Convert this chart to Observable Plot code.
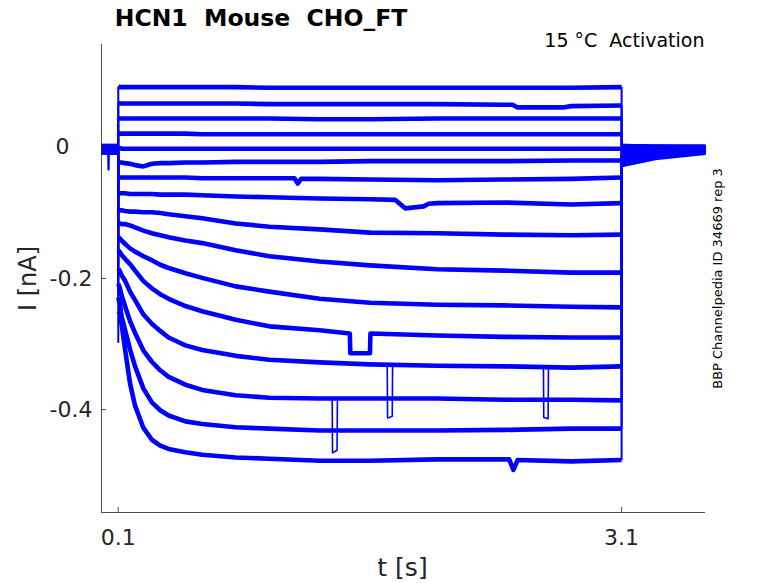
<!DOCTYPE html>
<html><head><meta charset="utf-8">
<script src="https://cdn.jsdelivr.net/npm/d3@7"></script>
<script src="https://cdn.jsdelivr.net/npm/@observablehq/plot@0.6"></script>
<style>
body{margin:0;background:#fff}
svg text{white-space:pre}
</style>
</head><body><div id="chart"></div>
<script>
// ---------- texts ----------
const titleText = "HCN1  Mouse  CHO_FT";
const conditionText = "15 °C  Activation";
const sourceText = "BBP Channelpedia ID 34669 rep 3";
const xLabel = "t [s]";
const yLabel = "I [nA]";
// ---------- axes ----------
const xTicks = [0.1, 3.1];
const xTickLabels = ["0.1", "3.1"];
const yTicks = [0, -0.2, -0.4];
const yTickLabels = ["0", "-0.2", "-0.4"];
const xDomain = [0, 3.6];
const yDomain = [-0.557, 0.157];
// ---------- protocol times ----------
const stepOn = 0.1;
const stepOff = 3.1;
const baseTimes = [0, 0.0995];
const tailTimes = [3.1005, 3.3, 3.6];
// sample times during the step (s)
const times = [0.1, 0.11, 0.12, 0.14, 0.17, 0.2, 0.25, 0.3, 0.35, 0.4, 0.5, 0.6, 0.8, 1.0, 1.3, 1.6, 2.0, 2.4, 2.8, 3.1];
// current during the step (nA), one array per sweep
const trace01 = [0.093,0.092,0.092,0.092,0.092,0.092,0.092,0.092,0.092,0.092,0.092,0.092,0.092,0.091,0.091,0.091,0.091,0.091,0.091,0.092];
const trace02 = [0.068,0.067,0.067,0.067,0.067,0.067,0.067,0.067,0.067,0.067,0.067,0.067,0.067,0.066,0.066,0.066,0.066,0.065,0.061,0.064];
const trace03 = [0.044,0.044,0.044,0.044,0.044,0.044,0.044,0.044,0.044,0.044,0.044,0.044,0.044,0.044,0.043,0.043,0.044,0.044,0.044,0.044];
const trace04 = [0.022,0.021,0.021,0.021,0.021,0.021,0.021,0.021,0.021,0.021,0.021,0.020,0.020,0.020,0.020,0.020,0.020,0.020,0.020,0.020];
const trace05 = [-0.001,-0.001,-0.002,-0.002,-0.002,-0.002,-0.002,-0.002,-0.002,-0.002,-0.002,-0.002,-0.002,-0.002,-0.002,-0.002,-0.002,-0.002,-0.002,-0.002];
const trace06 = [-0.023,-0.023,-0.023,-0.024,-0.025,-0.027,-0.029,-0.025,-0.024,-0.024,-0.023,-0.023,-0.022,-0.022,-0.022,-0.021,-0.021,-0.021,-0.020,-0.020];
const trace07 = [-0.045,-0.046,-0.046,-0.046,-0.046,-0.046,-0.046,-0.046,-0.046,-0.046,-0.046,-0.047,-0.047,-0.047,-0.048,-0.049,-0.050,-0.049,-0.048,-0.046];
const trace08 = [-0.070,-0.070,-0.070,-0.070,-0.071,-0.071,-0.071,-0.071,-0.072,-0.072,-0.072,-0.073,-0.075,-0.076,-0.078,-0.079,-0.085,-0.084,-0.087,-0.085];
const trace09 = [-0.096,-0.096,-0.096,-0.097,-0.098,-0.098,-0.099,-0.099,-0.100,-0.102,-0.105,-0.108,-0.116,-0.121,-0.125,-0.130,-0.131,-0.133,-0.134,-0.133];
const trace10 = [-0.116,-0.116,-0.117,-0.117,-0.119,-0.122,-0.127,-0.131,-0.134,-0.137,-0.142,-0.146,-0.157,-0.166,-0.174,-0.180,-0.186,-0.188,-0.191,-0.191];
const trace11 = [-0.137,-0.139,-0.142,-0.147,-0.154,-0.159,-0.166,-0.172,-0.179,-0.184,-0.192,-0.199,-0.212,-0.220,-0.231,-0.237,-0.240,-0.241,-0.243,-0.244];
const trace12 = [-0.157,-0.160,-0.164,-0.170,-0.178,-0.188,-0.204,-0.215,-0.224,-0.231,-0.242,-0.250,-0.263,-0.273,-0.279,-0.284,-0.287,-0.289,-0.290,-0.290];
const trace13 = [-0.185,-0.189,-0.195,-0.203,-0.220,-0.233,-0.255,-0.269,-0.280,-0.290,-0.302,-0.309,-0.318,-0.324,-0.328,-0.331,-0.333,-0.334,-0.336,-0.334];
const trace14 = [-0.208,-0.215,-0.226,-0.242,-0.265,-0.283,-0.310,-0.327,-0.340,-0.350,-0.362,-0.370,-0.378,-0.382,-0.383,-0.383,-0.383,-0.385,-0.385,-0.386];
const trace15 = [-0.229,-0.240,-0.258,-0.278,-0.308,-0.334,-0.368,-0.389,-0.401,-0.409,-0.418,-0.422,-0.427,-0.429,-0.432,-0.432,-0.432,-0.431,-0.429,-0.429];
const trace16 = [-0.250,-0.253,-0.270,-0.307,-0.360,-0.394,-0.428,-0.446,-0.455,-0.460,-0.465,-0.469,-0.473,-0.475,-0.478,-0.478,-0.476,-0.476,-0.479,-0.477];
const traces = [trace01,trace02,trace03,trace04,trace05,trace06,trace07,trace08,trace09,trace10,trace11,trace12,trace13,trace14,trace15,trace16];
// holding current before the step (nA)
const baseline = [0.002,0.002,0.001,0.001,0.000,0.000,-0.001,-0.002,-0.003,-0.004,-0.004,-0.005,-0.006,-0.007,-0.007,-0.008];
// capacitive transient at step onset (sweep index, nA)
const onsetTransient = {trace: 15, value: -0.298};
// tail currents after the step (nA) at tailTimes
const tailA = [0.002,0.002,0.001,0.001,0.000,-0.001,-0.003,-0.005,-0.008,-0.011,-0.014,-0.017,-0.020,-0.023,-0.025,-0.027];
const tailB = [0.001,0.001,0.001,0.000,0.000,-0.001,-0.002,-0.003,-0.005,-0.007,-0.008,-0.010,-0.011,-0.013,-0.014,-0.016];
const tailC = [0.001,0.001,0.000,0.000,-0.001,-0.001,-0.002,-0.002,-0.003,-0.004,-0.004,-0.005,-0.006,-0.006,-0.007,-0.008];
// in-trace dropouts / dips (sweep index, [t, nA] points)
const dropouts = [
  {trace: 1,  points: [[2.45,0.065],[2.48,0.061],[2.75,0.061],[2.80,0.063]]},
  {trace: 6,  points: [[1.15,-0.047],[1.17,-0.055],[1.19,-0.048]]},
  {trace: 7,  points: [[1.75,-0.080],[1.81,-0.093],[1.92,-0.090],[1.95,-0.086]]},
  {trace: 11, points: [[1.48,-0.284],[1.483,-0.314],[1.600,-0.314],[1.603,-0.284]]},
  {trace: 15, points: [[2.43,-0.476],[2.455,-0.492],[2.48,-0.477]]}
];
// narrow spikes (drawn thin)
const spikes = [
  {trace: 4,  points: [[0.038,-0.003],[0.040,-0.034],[0.044,-0.034],[0.046,-0.003]]},
  {trace: 12, points: [[1.703,-0.332],[1.705,-0.413],[1.733,-0.410],[1.735,-0.332]]},
  {trace: 12, points: [[2.634,-0.335],[2.636,-0.412],[2.662,-0.414],[2.664,-0.335]]},
  {trace: 13, points: [[1.375,-0.383],[1.377,-0.466],[1.404,-0.462],[1.406,-0.383]]}
];

// ---------- build tables ----------
const W = 778, H = 583;
const mL = 101, mR = 73, mT = 44, mB = 71;
const blue = "#0000ff";
const axisColor = "#262626";

const rows = [];
traces.forEach((vals, i) => {
  baseTimes.forEach(t => rows.push({key: `b${i}`, t, v: baseline[i]}));
  const drops = dropouts.filter(d => d.trace === i);
  let pts = times.map((t, k) => [t, vals[k]]).filter(([t]) =>
    !drops.some(d => t >= d.points[0][0] && t <= d.points[d.points.length - 1][0]));
  drops.forEach(d => pts = pts.concat(d.points));
  pts.sort((a, b) => a[0] - b[0]);
  pts.forEach(([t, v]) => rows.push({key: `s${i}`, t, v}));
  [tailA[i], tailB[i], tailC[i]].forEach((v, k) => rows.push({key: `t${i}`, t: tailTimes[k], v}));
});
const spikeRows = [];
spikes.forEach((s, j) => s.points.forEach(([t, v]) => spikeRows.push({key: `k${j}`, t, v})));

const onsetLinks = traces.map((vals, i) => ({
  y1: baseline[i],
  y2: i === onsetTransient.trace ? onsetTransient.value : vals[0]
}));
const offsetLinks = traces.map((vals, i) => ({y1: vals[vals.length - 1], y2: tailA[i]}));

const tickLenX = 5 * (xDomain[1] - xDomain[0]) / (W - mL - mR);
const tickLenY = 5 * (yDomain[1] - yDomain[0]) / (H - mT - mB);

const yTickRows = yTicks.map((v, k) => ({v, label: yTickLabels[k]}));
const xTickRows = xTicks.map((v, k) => ({v, label: xTickLabels[k]}));

const chart = Plot.plot({
  width: W, height: H,
  marginLeft: mL, marginRight: mR, marginTop: mT, marginBottom: mB,
  x: {domain: xDomain, axis: null},
  y: {domain: yDomain, axis: null},
  style: {fontFamily: "DejaVu Sans", background: "white", color: axisColor},
  marks: [
    // traces
    Plot.line(rows, {x: "t", y: "v", z: "key", stroke: blue, strokeWidth: 4.6, strokeLinejoin: "round", strokeLinecap: "butt", curve: "linear"}),
    Plot.line(spikeRows, {x: "t", y: "v", z: "key", stroke: blue, strokeWidth: 1.6}),
    Plot.link(onsetLinks, {x1: () => stepOn, x2: () => stepOn, y1: "y1", y2: "y2", stroke: blue, strokeWidth: 2}),
    Plot.link(offsetLinks, {x1: () => stepOff, x2: () => stepOff, y1: "y1", y2: "y2", stroke: blue, strokeWidth: 2}),
    // axes lines
    Plot.ruleX([xDomain[0]], {stroke: axisColor, strokeWidth: 0.8}),
    Plot.ruleY([yDomain[0]], {stroke: axisColor, strokeWidth: 0.8}),
    Plot.ruleY(yTicks, {x1: xDomain[0], x2: xDomain[0] + tickLenX, stroke: axisColor, strokeWidth: 0.8}),
    Plot.ruleX(xTicks, {y1: yDomain[0], y2: yDomain[0] + tickLenY, stroke: axisColor, strokeWidth: 0.8}),
    // tick labels
    Plot.text(yTickRows.filter(d => d.v !== 0), {x: xDomain[0], y: "v", text: "label", textAnchor: "end", dx: -9, fontSize: 22, fill: axisColor}),
    Plot.text(yTickRows.filter(d => d.v === 0), {x: xDomain[0], y: "v", text: "label", textAnchor: "middle", dx: -39, fontSize: 22, fill: axisColor}),
    Plot.text(xTickRows, {x: "v", y: yDomain[0], text: "label", dy: 25, lineAnchor: "middle", fontSize: 22, fill: axisColor}),
    // labels
    Plot.text([xLabel], {frameAnchor: "bottom", dx: -1, dy: 55, textAnchor: "middle", lineAnchor: "middle", fontSize: 25, fill: axisColor}),
    Plot.text([yLabel], {frameAnchor: "left", dx: -73, rotate: -90, textAnchor: "middle", lineAnchor: "middle", fontSize: 24, fill: axisColor}),
    Plot.text([titleText], {frameAnchor: "top-left", dx: 159.5, dy: -26, textAnchor: "middle", lineAnchor: "middle", fontSize: 23.5, fontWeight: "bold", fill: "#000"}),
    Plot.text([conditionText], {frameAnchor: "top-right", dx: -1, dy: -4, textAnchor: "end", lineAnchor: "middle", fontSize: 19, fill: "#000"}),
    Plot.text([sourceText], {frameAnchor: "right", dx: 12, rotate: -90, textAnchor: "middle", lineAnchor: "middle", fontSize: 13, fill: "#000"})
  ]
});
document.getElementById("chart").appendChild(chart);
</script>
</body></html>
